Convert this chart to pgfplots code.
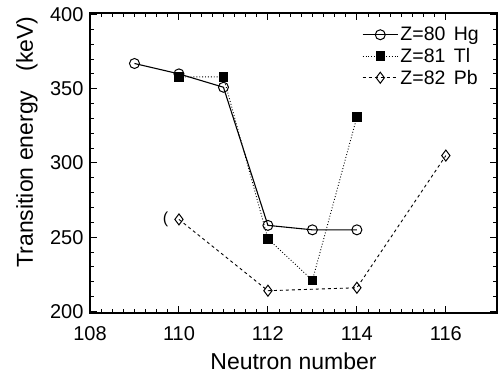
\documentclass[border=0pt]{standalone}
\usepackage{fontspec}
\setmainfont{Liberation Sans}
\usepackage{pgfplots}
\pgfplotsset{compat=1.18}
\usetikzlibrary{calc}
\begin{document}
\begin{tikzpicture}
\begin{axis}[
  name=ax,
  scale only axis,
  width=407pt, height=300pt,
  xmin=108, xmax=117.15, ymin=199, ymax=401,
  xtick={108,110,112,114,116}, minor x tick num=7,
  ytick={200,250,300,350,400}, minor y tick num=4,
  tick align=inside,
  major tick length=7pt, minor tick length=4pt,
  every tick/.style={black, line width=1pt},
  axis line style={line width=1.4pt},
  /pgf/number format/assume math mode=true,
  /pgf/number format/1000 sep={},
  tick label style={font=\fontsize{20}{22}\selectfont},
  xticklabel style={yshift=-10pt},
  yticklabel style={xshift=-3pt},
  xlabel={Neutron number},
  ylabel={Transition energy\ \ \ (keV)},
  label style={font=\fontsize{23}{26}\selectfont},
  xlabel style={at={(axis description cs:0.5,0)}, anchor=center, yshift=-48pt},
  ylabel style={at={(axis description cs:0,0.5)}, anchor=center, yshift=63pt, xshift=21pt},
  legend style={draw=none, fill=none, at={(axis description cs:1,1)}, anchor=north east,
    xshift=-13pt, yshift=-10pt,
    font=\fontsize{19.5}{21}\selectfont, row sep=2pt},
  legend cell align=left,
  legend image code/.code={\draw[mark repeat=2,mark phase=2] plot coordinates {(0cm,0cm) (0.62cm,0cm) (1.24cm,0cm)};},
]
\addplot[black, line width=1.1pt, mark=o, mark size=5pt, mark options={solid, fill=white, line width=1pt}]
  coordinates {(109,367) (110,360) (111,351) (112,258) (113,255) (114,255)};
\addlegendentry{Z=80\hspace{3pt} Hg}
\addplot[black, line width=0.9pt, dotted, mark=square*, mark size=4.3pt, mark options={solid, fill=black}]
  coordinates {(110,358) (111,358) (112,249) (113,221) (114,331)};
\addlegendentry{Z=81\hspace{3pt} Tl}
\addplot[black, line width=0.9pt, dashed, mark=diamond, mark size=5.5pt, mark options={solid, fill=white, line width=1pt}]
  coordinates {(110,262) (112,214) (114,216) (116,305)};
\addlegendentry{Z=82\hspace{3pt} Pb}
\node[font=\fontsize{16}{18}\selectfont] at (axis cs:109.7,262) {(};
\end{axis}
\useasboundingbox ($(ax.south west)+(-90pt,-61pt)$) rectangle ($(ax.north east)+(1pt,13pt)$);
\end{tikzpicture}
\end{document}
